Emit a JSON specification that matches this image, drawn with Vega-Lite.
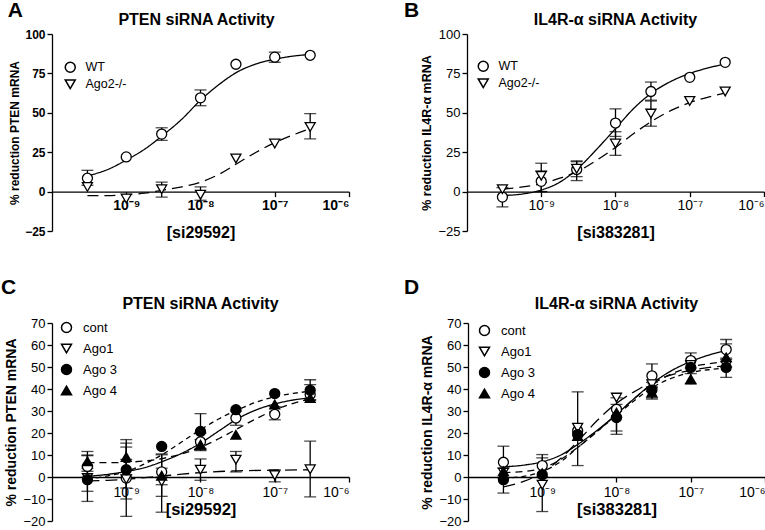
{
"$schema":"https://vega.github.io/schema/vega-lite/v6.json",
"padding":{"left":0,"top":0,"right":0,"bottom":0},
"config":{"font":"Liberation Sans","view":{"stroke":null},
 "axis":{"grid":false,"domainColor":"black","tickColor":"black","labelColor":"black","titleColor":"black","labelFont":"Liberation Sans","titleFont":"Liberation Sans","tickSize":5,"domainWidth":1.3,"tickWidth":1.3},
 "title":{"font":"Liberation Sans","color":"black"},
 "legend":{"labelFont":"Liberation Sans","labelColor":"black"}},
"datasets":{
"aPts":[
{"s":"WT","c":3e-10,"v":8.5,"lo":4,"hi":13.5},{"s":"WT","c":1e-9,"v":22,"lo":null,"hi":null},{"s":"WT","c":3e-9,"v":36.5,"lo":32.5,"hi":40.5},{"s":"WT","c":1e-8,"v":59.5,"lo":54.5,"hi":64.5},{"s":"WT","c":3e-8,"v":80.8,"lo":null,"hi":null},{"s":"WT","c":1e-7,"v":85.3,"lo":82,"hi":88.5},{"s":"WT","c":3e-7,"v":86.5,"lo":null,"hi":null},
{"s":"Ago2-/-","c":3e-10,"v":3,"lo":null,"hi":null},{"s":"Ago2-/-","c":1e-9,"v":-4.4,"lo":null,"hi":null},{"s":"Ago2-/-","c":3e-9,"v":1.5,"lo":-3.5,"hi":6},{"s":"Ago2-/-","c":1e-8,"v":-2,"lo":-5.5,"hi":3},{"s":"Ago2-/-","c":3e-8,"v":21,"lo":null,"hi":null},{"s":"Ago2-/-","c":1e-7,"v":30.5,"lo":null,"hi":null},{"s":"Ago2-/-","c":3e-7,"v":41,"lo":33.5,"hi":49.5}],
"aCurve":[
{"s":"WT","c":3e-10,"v":10},{"s":"WT","c":5.62e-10,"v":14},{"s":"WT","c":1e-9,"v":20},{"s":"WT","c":1.78e-9,"v":27},{"s":"WT","c":3.16e-9,"v":36},{"s":"WT","c":5.62e-9,"v":46},{"s":"WT","c":1e-8,"v":58},{"s":"WT","c":1.78e-8,"v":68},{"s":"WT","c":3.16e-8,"v":76},{"s":"WT","c":5.62e-8,"v":81},{"s":"WT","c":1e-7,"v":84},{"s":"WT","c":1.78e-7,"v":86},{"s":"WT","c":3e-7,"v":87},
{"s":"Ago2-/-","c":3e-10,"v":-2.5},{"s":"Ago2-/-","c":5.62e-10,"v":-2.5},{"s":"Ago2-/-","c":1e-9,"v":-2},{"s":"Ago2-/-","c":1.78e-9,"v":-1},{"s":"Ago2-/-","c":3.16e-9,"v":1},{"s":"Ago2-/-","c":5.62e-9,"v":3},{"s":"Ago2-/-","c":1e-8,"v":6},{"s":"Ago2-/-","c":1.78e-8,"v":11},{"s":"Ago2-/-","c":3.16e-8,"v":18},{"s":"Ago2-/-","c":5.62e-8,"v":25},{"s":"Ago2-/-","c":1e-7,"v":31},{"s":"Ago2-/-","c":1.78e-7,"v":36},{"s":"Ago2-/-","c":3e-7,"v":40}],
"bPts":[
{"s":"WT","c":3e-10,"v":-3.5,"lo":-9.7,"hi":2.5},{"s":"WT","c":1e-9,"v":6.5,"lo":0,"hi":13},{"s":"WT","c":3e-9,"v":14,"lo":7,"hi":19.5},{"s":"WT","c":1e-8,"v":43.5,"lo":35,"hi":52.5},{"s":"WT","c":3e-8,"v":63.5,"lo":58,"hi":69.5},{"s":"WT","c":1e-7,"v":72.5,"lo":null,"hi":null},{"s":"WT","c":3e-7,"v":82,"lo":null,"hi":null},
{"s":"Ago2-/-","c":3e-10,"v":1.5,"lo":null,"hi":null},{"s":"Ago2-/-","c":1e-9,"v":10,"lo":0,"hi":18},{"s":"Ago2-/-","c":3e-9,"v":14.5,"lo":9.5,"hi":19},{"s":"Ago2-/-","c":1e-8,"v":30.5,"lo":23,"hi":38},{"s":"Ago2-/-","c":3e-8,"v":49.5,"lo":41.5,"hi":57.5},{"s":"Ago2-/-","c":1e-7,"v":57.5,"lo":null,"hi":null},{"s":"Ago2-/-","c":3e-7,"v":63.5,"lo":null,"hi":null}],
"bCurve":[
{"s":"WT","c":3e-10,"v":-2.5},{"s":"WT","c":5.62e-10,"v":-1.5},{"s":"WT","c":1e-9,"v":1},{"s":"WT","c":1.78e-9,"v":6},{"s":"WT","c":3.16e-9,"v":15},{"s":"WT","c":5.62e-9,"v":27},{"s":"WT","c":1e-8,"v":40},{"s":"WT","c":1.78e-8,"v":53},{"s":"WT","c":3.16e-8,"v":63},{"s":"WT","c":5.62e-8,"v":70},{"s":"WT","c":1e-7,"v":75},{"s":"WT","c":1.78e-7,"v":78.5},{"s":"WT","c":3e-7,"v":81},
{"s":"Ago2-/-","c":3e-10,"v":1.5},{"s":"Ago2-/-","c":5.62e-10,"v":3},{"s":"Ago2-/-","c":1e-9,"v":5},{"s":"Ago2-/-","c":1.78e-9,"v":8.5},{"s":"Ago2-/-","c":3.16e-9,"v":13},{"s":"Ago2-/-","c":5.62e-9,"v":20},{"s":"Ago2-/-","c":1e-8,"v":28},{"s":"Ago2-/-","c":1.78e-8,"v":37},{"s":"Ago2-/-","c":3.16e-8,"v":45},{"s":"Ago2-/-","c":5.62e-8,"v":51.5},{"s":"Ago2-/-","c":1e-7,"v":56.5},{"s":"Ago2-/-","c":1.78e-7,"v":60},{"s":"Ago2-/-","c":3e-7,"v":62.5}],
"cPts":[
{"s":"cont","c":3e-10,"v":4.8,"lo":-0.1,"hi":9.7},{"s":"cont","c":1e-9,"v":-0.5,"lo":-17.9,"hi":15.4},{"s":"cont","c":3e-9,"v":2.3,"lo":-8.8,"hi":10.1},{"s":"cont","c":1e-8,"v":16,"lo":12,"hi":20},{"s":"cont","c":3e-8,"v":26.8,"lo":23.5,"hi":30},{"s":"cont","c":1e-7,"v":28.5,"lo":26,"hi":32},{"s":"cont","c":3e-7,"v":37.5,"lo":35,"hi":42},
{"s":"Ago1","c":3e-10,"v":-0.5,"lo":-11.1,"hi":10},{"s":"Ago1","c":1e-9,"v":-1,"lo":-10,"hi":8},{"s":"Ago1","c":3e-9,"v":-2,"lo":-16,"hi":10.5},{"s":"Ago1","c":1e-8,"v":3.3,"lo":-1.5,"hi":8.2},{"s":"Ago1","c":3e-8,"v":7.9,"lo":2.3,"hi":11.6},{"s":"Ago1","c":1e-7,"v":0.8,"lo":-2.2,"hi":3.3},{"s":"Ago1","c":3e-7,"v":3.5,"lo":-9,"hi":16.3},
{"s":"Ago 3","c":3e-10,"v":-1.2,"lo":-6.5,"hi":4},{"s":"Ago 3","c":1e-9,"v":3.3,"lo":-5,"hi":13.6},{"s":"Ago 3","c":3e-9,"v":13.9,"lo":null,"hi":null},{"s":"Ago 3","c":1e-8,"v":20.7,"lo":13,"hi":28.8},{"s":"Ago 3","c":3e-8,"v":30.6,"lo":null,"hi":null},{"s":"Ago 3","c":1e-7,"v":37.9,"lo":null,"hi":null},{"s":"Ago 3","c":3e-7,"v":39.4,"lo":35,"hi":44.2},
{"s":"Ago 4","c":3e-10,"v":7.1,"lo":2.6,"hi":11.6},{"s":"Ago 4","c":1e-9,"v":9.1,"lo":1,"hi":17},{"s":"Ago 4","c":3e-9,"v":0.6,"lo":-3.5,"hi":4},{"s":"Ago 4","c":1e-8,"v":14.7,"lo":12.4,"hi":17},{"s":"Ago 4","c":3e-8,"v":19.2,"lo":null,"hi":null},{"s":"Ago 4","c":1e-7,"v":33,"lo":null,"hi":null},{"s":"Ago 4","c":3e-7,"v":35.9,"lo":null,"hi":null}],
"cCurve":[
{"s":"cont","c":3e-10,"v":0.3},{"s":"cont","c":5.62e-10,"v":1.2},{"s":"cont","c":1e-9,"v":2.5},{"s":"cont","c":1.78e-9,"v":4.3},{"s":"cont","c":3.16e-9,"v":7.2},{"s":"cont","c":5.62e-9,"v":10.8},{"s":"cont","c":1e-8,"v":15.4},{"s":"cont","c":1.78e-8,"v":21},{"s":"cont","c":3.16e-8,"v":26.5},{"s":"cont","c":5.62e-8,"v":30.5},{"s":"cont","c":1e-7,"v":33.2},{"s":"cont","c":1.78e-7,"v":35},{"s":"cont","c":3e-7,"v":36},
{"s":"Ago1","c":3e-10,"v":-1.8},{"s":"Ago1","c":5.62e-10,"v":-1.5},{"s":"Ago1","c":1e-9,"v":-1},{"s":"Ago1","c":1.78e-9,"v":-0.3},{"s":"Ago1","c":3.16e-9,"v":0.5},{"s":"Ago1","c":5.62e-9,"v":1.3},{"s":"Ago1","c":1e-8,"v":2},{"s":"Ago1","c":1.78e-8,"v":2.5},{"s":"Ago1","c":3.16e-8,"v":2.8},{"s":"Ago1","c":1e-7,"v":3.1},{"s":"Ago1","c":3e-7,"v":3.3},
{"s":"Ago 3","c":3e-10,"v":-1},{"s":"Ago 3","c":5.62e-10,"v":0.5},{"s":"Ago 3","c":1e-9,"v":2.5},{"s":"Ago 3","c":1.78e-9,"v":6},{"s":"Ago 3","c":3.16e-9,"v":10.5},{"s":"Ago 3","c":5.62e-9,"v":16},{"s":"Ago 3","c":1e-8,"v":21.5},{"s":"Ago 3","c":1.78e-8,"v":26.5},{"s":"Ago 3","c":3.16e-8,"v":30.5},{"s":"Ago 3","c":5.62e-8,"v":34},{"s":"Ago 3","c":1e-7,"v":36.5},{"s":"Ago 3","c":1.78e-7,"v":38},{"s":"Ago 3","c":3e-7,"v":39},
{"s":"Ago 4","c":3e-10,"v":6.5},{"s":"Ago 4","c":5.62e-10,"v":6.5},{"s":"Ago 4","c":1e-9,"v":6.7},{"s":"Ago 4","c":1.78e-9,"v":7.3},{"s":"Ago 4","c":3.16e-9,"v":8.5},{"s":"Ago 4","c":5.62e-9,"v":10.5},{"s":"Ago 4","c":1e-8,"v":13.5},{"s":"Ago 4","c":1.78e-8,"v":17.5},{"s":"Ago 4","c":3.16e-8,"v":22},{"s":"Ago 4","c":5.62e-8,"v":26.5},{"s":"Ago 4","c":1e-7,"v":30.5},{"s":"Ago 4","c":1.78e-7,"v":33.5},{"s":"Ago 4","c":3e-7,"v":35.5}],
"dPts":[
{"s":"cont","c":3e-10,"v":6.7,"lo":-0.5,"hi":14},{"s":"cont","c":1e-9,"v":5.2,"lo":0,"hi":10.2},{"s":"cont","c":3e-9,"v":21,"lo":null,"hi":null},{"s":"cont","c":1e-8,"v":30.8,"lo":20.9,"hi":36},{"s":"cont","c":3e-8,"v":46,"lo":40.5,"hi":51.4},{"s":"cont","c":1e-7,"v":52.9,"lo":49.5,"hi":56.4},{"s":"cont","c":3e-7,"v":57.9,"lo":53.5,"hi":62.5},
{"s":"Ago1","c":3e-10,"v":2,"lo":null,"hi":null},{"s":"Ago1","c":1e-9,"v":-3.5,"lo":-15.7,"hi":8.7},{"s":"Ago1","c":3e-9,"v":22.4,"lo":5.2,"hi":38.7},{"s":"Ago1","c":1e-8,"v":36.1,"lo":null,"hi":null},{"s":"Ago1","c":3e-8,"v":42.2,"lo":null,"hi":null},{"s":"Ago1","c":1e-7,"v":50.9,"lo":null,"hi":null},{"s":"Ago1","c":3e-7,"v":50.6,"lo":null,"hi":null},
{"s":"Ago 3","c":3e-10,"v":-1.2,"lo":-7.3,"hi":4},{"s":"Ago 3","c":1e-9,"v":1,"lo":null,"hi":null},{"s":"Ago 3","c":3e-9,"v":19.3,"lo":null,"hi":null},{"s":"Ago 3","c":1e-8,"v":27,"lo":19.4,"hi":33},{"s":"Ago 3","c":3e-8,"v":39.5,"lo":35.4,"hi":43},{"s":"Ago 3","c":1e-7,"v":49.8,"lo":null,"hi":null},{"s":"Ago 3","c":3e-7,"v":49.8,"lo":45.3,"hi":54},
{"s":"Ago 4","c":3e-10,"v":2.6,"lo":null,"hi":null},{"s":"Ago 4","c":1e-9,"v":1.8,"lo":null,"hi":null},{"s":"Ago 4","c":3e-9,"v":18.6,"lo":null,"hi":null},{"s":"Ago 4","c":1e-8,"v":29.3,"lo":null,"hi":null},{"s":"Ago 4","c":3e-8,"v":38.4,"lo":36,"hi":41},{"s":"Ago 4","c":1e-7,"v":44.5,"lo":42.2,"hi":47},{"s":"Ago 4","c":3e-7,"v":54.4,"lo":50,"hi":60.5}],
"dCurve":[
{"s":"cont","c":3e-10,"v":4.6},{"s":"cont","c":5.62e-10,"v":5.4},{"s":"cont","c":1e-9,"v":6.9},{"s":"cont","c":1.78e-9,"v":10},{"s":"cont","c":3.16e-9,"v":15.3},{"s":"cont","c":5.62e-9,"v":21.5},{"s":"cont","c":1e-8,"v":28.5},{"s":"cont","c":1.78e-8,"v":36},{"s":"cont","c":3.16e-8,"v":43},{"s":"cont","c":5.62e-8,"v":48.5},{"s":"cont","c":1e-7,"v":52.5},{"s":"cont","c":1.78e-7,"v":55.5},{"s":"cont","c":3e-7,"v":57.5},
{"s":"Ago1","c":3e-10,"v":-4.5},{"s":"Ago1","c":5.62e-10,"v":-2},{"s":"Ago1","c":1e-9,"v":2},{"s":"Ago1","c":1.78e-9,"v":8.5},{"s":"Ago1","c":3.16e-9,"v":17},{"s":"Ago1","c":5.62e-9,"v":26},{"s":"Ago1","c":1e-8,"v":33.5},{"s":"Ago1","c":1.78e-8,"v":39},{"s":"Ago1","c":3.16e-8,"v":43.5},{"s":"Ago1","c":5.62e-8,"v":46.5},{"s":"Ago1","c":1e-7,"v":48.5},{"s":"Ago1","c":1.78e-7,"v":49.8},{"s":"Ago1","c":3e-7,"v":50.5},
{"s":"Ago 3","c":3e-10,"v":-0.5},{"s":"Ago 3","c":5.62e-10,"v":0.3},{"s":"Ago 3","c":1e-9,"v":2.5},{"s":"Ago 3","c":1.78e-9,"v":7},{"s":"Ago 3","c":3.16e-9,"v":14},{"s":"Ago 3","c":5.62e-9,"v":21},{"s":"Ago 3","c":1e-8,"v":28},{"s":"Ago 3","c":1.78e-8,"v":35},{"s":"Ago 3","c":3.16e-8,"v":41},{"s":"Ago 3","c":5.62e-8,"v":45},{"s":"Ago 3","c":1e-7,"v":47.5},{"s":"Ago 3","c":1.78e-7,"v":48.8},{"s":"Ago 3","c":3e-7,"v":49.5},
{"s":"Ago 4","c":3e-10,"v":2},{"s":"Ago 4","c":5.62e-10,"v":2.5},{"s":"Ago 4","c":1e-9,"v":4},{"s":"Ago 4","c":1.78e-9,"v":8},{"s":"Ago 4","c":3.16e-9,"v":14},{"s":"Ago 4","c":5.62e-9,"v":21},{"s":"Ago 4","c":1e-8,"v":28.5},{"s":"Ago 4","c":1.78e-8,"v":36},{"s":"Ago 4","c":3.16e-8,"v":42.5},{"s":"Ago 4","c":5.62e-8,"v":47},{"s":"Ago 4","c":1e-7,"v":50},{"s":"Ago 4","c":1.78e-7,"v":51.5},{"s":"Ago 4","c":3e-7,"v":52.5}]
},
"spacing":36,
"resolve":{"scale":{"shape":"independent","fill":"independent","strokeDash":"independent"},"legend":{"shape":"independent","fill":"independent","strokeDash":"independent"}},
"vconcat":[
{"resolve":{"scale":{"shape":"independent","fill":"independent","strokeDash":"independent"},"legend":{"shape":"independent","fill":"independent","strokeDash":"independent"}},
"hconcat":[
{"title":{"text":"A","anchor":"start","frame":"bounds","fontSize":21,"fontWeight":"bold","offset":-9,"dx":-1},
 "resolve":{"legend":{"shape":"independent","fill":"independent"}},
 "vconcat":[{"width":297,"height":197,
  "title":{"text":"PTEN siRNA Activity","fontSize":16,"fontWeight":"bold","offset":0,"dx":-4},
  "encoding":{
   "x":{"field":"c","type":"quantitative","scale":{"type":"log","domain":[1e-10,1e-6],"nice":false},"axis":{"values":[1e-9,1e-8,1e-7,1e-6],"labelExpr":"datum.value < 5e-9 ? '10⁻⁹' : datum.value < 5e-8 ? '10⁻⁸' : datum.value < 5e-7 ? '10⁻⁷' : '10⁻⁶'","offset":-39.4,"title":"[si29592]","titleFontSize":16,"titleFontWeight":"bold","titleY":41,"titleBaseline":"middle","labelFontSize":14,"labelFontWeight":"bold","labelPadding":2}},
   "y":{"field":"v","type":"quantitative","scale":{"domain":[-25,100],"nice":false},"axis":{"values":[-25,0,25,50,75,100],"title":"% reduction PTEN mRNA","titleFontSize":12,"titleFontWeight":"bold","labelFontSize":12,"labelFontWeight":"bold","titlePadding":3}}},
  "layer":[
   {"data":{"name":"aCurve"},"mark":{"type":"line","color":"black","strokeWidth":1.3,"interpolate":"monotone"},"encoding":{"strokeDash":{"field":"s","type":"nominal","scale":{"domain":["WT","Ago2-/-"],"range":[[1,0],[11,6]]},"legend":null}}},
   {"data":{"name":"aPts"},"mark":{"type":"rule","color":"black","strokeWidth":1.3},"encoding":{"y":{"field":"lo","type":"quantitative","scale":{"domain":[-25,100],"nice":false},"axis":{"values":[-25,0,25,50,75,100],"title":"% reduction PTEN mRNA","titleFontSize":12,"titleFontWeight":"bold","labelFontSize":12,"labelFontWeight":"bold","titlePadding":3}},"y2":{"field":"hi"}}},
   {"data":{"name":"aPts"},"mark":{"type":"tick","orient":"horizontal","size":12,"thickness":1.3,"color":"black"},"encoding":{"y":{"field":"lo","type":"quantitative","scale":{"domain":[-25,100],"nice":false},"axis":{"values":[-25,0,25,50,75,100],"title":"% reduction PTEN mRNA","titleFontSize":12,"titleFontWeight":"bold","labelFontSize":12,"labelFontWeight":"bold","titlePadding":3}}}},
   {"data":{"name":"aPts"},"mark":{"type":"tick","orient":"horizontal","size":12,"thickness":1.3,"color":"black"},"encoding":{"y":{"field":"hi","type":"quantitative","scale":{"domain":[-25,100],"nice":false},"axis":{"values":[-25,0,25,50,75,100],"title":"% reduction PTEN mRNA","titleFontSize":12,"titleFontWeight":"bold","labelFontSize":12,"labelFontWeight":"bold","titlePadding":3}}}},
   {"data":{"name":"aPts"},"mark":{"type":"point","filled":true,"stroke":"black","strokeWidth":1.3,"size":100,"opacity":1},"encoding":{
     "shape":{"field":"s","type":"nominal","scale":{"domain":["WT","Ago2-/-"],"range":["circle","triangle-down"]},"legend":{"orient":"none","legendX":12,"legendY":27,"title":null,"labelFontSize":12.5,"symbolSize":100,"rowPadding":0,"labelOffset":9,"padding":0,"encode":{"symbols":{"update":{"stroke":{"value":"black"},"strokeWidth":{"value":1.3}}}}}},
     "fill":{"field":"s","type":"nominal","scale":{"domain":["WT","Ago2-/-"],"range":["white","white"]},"legend":{"orient":"none","legendX":12,"legendY":27,"title":null,"labelFontSize":12.5,"symbolSize":100,"rowPadding":0,"labelOffset":9,"padding":0,"encode":{"symbols":{"update":{"stroke":{"value":"black"},"strokeWidth":{"value":1.3}}}}}}}}
  ]}]},
{"title":{"text":"B","anchor":"start","frame":"bounds","fontSize":21,"fontWeight":"bold","offset":-9,"dx":-17},
 "resolve":{"legend":{"shape":"independent","fill":"independent"}},
 "vconcat":[{"width":297,"height":197,
  "title":{"text":"IL4R-α siRNA Activity","fontSize":16,"fontWeight":"bold","offset":0},
  "encoding":{
   "x":{"field":"c","type":"quantitative","scale":{"type":"log","domain":[1e-10,1e-6],"nice":false},"axis":{"values":[1e-9,1e-8,1e-7,1e-6],"labelExpr":"datum.value < 5e-9 ? '10⁻⁹' : datum.value < 5e-8 ? '10⁻⁸' : datum.value < 5e-7 ? '10⁻⁷' : '10⁻⁶'","offset":-39.4,"title":"[si383281]","titleFontSize":16,"titleFontWeight":"bold","titleY":41,"titleBaseline":"middle","labelFontSize":14,"labelPadding":2}},
   "y":{"field":"v","type":"quantitative","scale":{"domain":[-25,100],"nice":false},"axis":{"values":[-25,0,25,50,75,100],"title":"% reduction IL4R-α mRNA","titleFontSize":12.5,"titleFontWeight":"bold","labelFontSize":13,"titlePadding":4}}},
  "layer":[
   {"data":{"name":"bCurve"},"mark":{"type":"line","color":"black","strokeWidth":1.3,"interpolate":"monotone"},"encoding":{"strokeDash":{"field":"s","type":"nominal","scale":{"domain":["WT","Ago2-/-"],"range":[[1,0],[11,6]]},"legend":null}}},
   {"data":{"name":"bPts"},"mark":{"type":"rule","color":"black","strokeWidth":1.3},"encoding":{"y":{"field":"lo","type":"quantitative","scale":{"domain":[-25,100],"nice":false},"axis":{"values":[-25,0,25,50,75,100],"title":"% reduction IL4R-α mRNA","titleFontSize":12.5,"titleFontWeight":"bold","labelFontSize":13,"titlePadding":4}},"y2":{"field":"hi"}}},
   {"data":{"name":"bPts"},"mark":{"type":"tick","orient":"horizontal","size":12,"thickness":1.3,"color":"black"},"encoding":{"y":{"field":"lo","type":"quantitative","scale":{"domain":[-25,100],"nice":false},"axis":{"values":[-25,0,25,50,75,100],"title":"% reduction IL4R-α mRNA","titleFontSize":12.5,"titleFontWeight":"bold","labelFontSize":13,"titlePadding":4}}}},
   {"data":{"name":"bPts"},"mark":{"type":"tick","orient":"horizontal","size":12,"thickness":1.3,"color":"black"},"encoding":{"y":{"field":"hi","type":"quantitative","scale":{"domain":[-25,100],"nice":false},"axis":{"values":[-25,0,25,50,75,100],"title":"% reduction IL4R-α mRNA","titleFontSize":12.5,"titleFontWeight":"bold","labelFontSize":13,"titlePadding":4}}}},
   {"data":{"name":"bPts"},"mark":{"type":"point","filled":true,"stroke":"black","strokeWidth":1.3,"size":100,"opacity":1},"encoding":{
     "shape":{"field":"s","type":"nominal","scale":{"domain":["WT","Ago2-/-"],"range":["circle","triangle-down"]},"legend":{"orient":"none","legendX":10,"legendY":26,"title":null,"labelFontSize":12.5,"symbolSize":100,"rowPadding":0,"labelOffset":9,"padding":0,"encode":{"symbols":{"update":{"stroke":{"value":"black"},"strokeWidth":{"value":1.3}}}}}},
     "fill":{"field":"s","type":"nominal","scale":{"domain":["WT","Ago2-/-"],"range":["white","white"]},"legend":{"orient":"none","legendX":10,"legendY":26,"title":null,"labelFontSize":12.5,"symbolSize":100,"rowPadding":0,"labelOffset":9,"padding":0,"encode":{"symbols":{"update":{"stroke":{"value":"black"},"strokeWidth":{"value":1.3}}}}}}}}
  ]}]}
],"spacing":53},
{"resolve":{"scale":{"shape":"independent","fill":"independent","strokeDash":"independent"},"legend":{"shape":"independent","fill":"independent","strokeDash":"independent"}},
"hconcat":[
{"title":{"text":"C","anchor":"start","frame":"bounds","fontSize":21,"fontWeight":"bold","offset":-2,"dx":-4},
 "resolve":{"legend":{"shape":"independent","fill":"independent"}},
 "vconcat":[{"width":297,"height":198,
  "title":{"text":"PTEN siRNA Activity","fontSize":16,"fontWeight":"bold","offset":5},
  "encoding":{
   "x":{"field":"c","type":"quantitative","scale":{"type":"log","domain":[1e-10,1e-6],"nice":false},"axis":{"values":[1e-9,1e-8,1e-7,1e-6],"labelExpr":"datum.value < 5e-9 ? '10⁻⁹' : datum.value < 5e-8 ? '10⁻⁸' : datum.value < 5e-7 ? '10⁻⁷' : '10⁻⁶'","offset":-44,"title":"[si29592]","titleFontSize":16.5,"titleFontWeight":"bold","titleY":32,"titleBaseline":"middle","labelFontSize":14,"labelPadding":3}},
   "y":{"field":"v","type":"quantitative","scale":{"domain":[-20,70],"nice":false},"axis":{"values":[-20,-10,0,10,20,30,40,50,60,70],"title":"% reduction PTEN mRNA","titleFontSize":14,"titleFontWeight":"bold","labelFontSize":13,"titlePadding":4}}},
  "layer":[
   {"data":{"name":"cCurve"},"mark":{"type":"line","color":"black","strokeWidth":1.3,"interpolate":"monotone"},"encoding":{"strokeDash":{"field":"s","type":"nominal","scale":{"domain":["cont","Ago1","Ago 3","Ago 4"],"range":[[1,0],[12,6],[5,4],[7,5]]},"legend":null}}},
   {"data":{"name":"cPts"},"mark":{"type":"rule","color":"black","strokeWidth":1.3},"encoding":{"y":{"field":"lo","type":"quantitative","scale":{"domain":[-20,70],"nice":false},"axis":{"values":[-20,-10,0,10,20,30,40,50,60,70],"title":"% reduction PTEN mRNA","titleFontSize":14,"titleFontWeight":"bold","labelFontSize":13,"titlePadding":4}},"y2":{"field":"hi"}}},
   {"data":{"name":"cPts"},"mark":{"type":"tick","orient":"horizontal","size":12,"thickness":1.3,"color":"black"},"encoding":{"y":{"field":"lo","type":"quantitative","scale":{"domain":[-20,70],"nice":false},"axis":{"values":[-20,-10,0,10,20,30,40,50,60,70],"title":"% reduction PTEN mRNA","titleFontSize":14,"titleFontWeight":"bold","labelFontSize":13,"titlePadding":4}}}},
   {"data":{"name":"cPts"},"mark":{"type":"tick","orient":"horizontal","size":12,"thickness":1.3,"color":"black"},"encoding":{"y":{"field":"hi","type":"quantitative","scale":{"domain":[-20,70],"nice":false},"axis":{"values":[-20,-10,0,10,20,30,40,50,60,70],"title":"% reduction PTEN mRNA","titleFontSize":14,"titleFontWeight":"bold","labelFontSize":13,"titlePadding":4}}}},
   {"data":{"name":"cPts"},"mark":{"type":"point","filled":true,"stroke":"black","strokeWidth":1.3,"size":100,"opacity":1},"encoding":{
     "shape":{"field":"s","type":"nominal","scale":{"domain":["cont","Ago1","Ago 3","Ago 4"],"range":["circle","triangle-down","circle","triangle-up"]},"legend":{"orient":"none","legendX":8,"legendY":-2,"title":null,"labelFontSize":13,"symbolSize":100,"rowPadding":5,"labelOffset":10,"padding":0,"encode":{"symbols":{"update":{"stroke":{"value":"black"},"strokeWidth":{"value":1.3}}}}}},
     "fill":{"field":"s","type":"nominal","scale":{"domain":["cont","Ago1","Ago 3","Ago 4"],"range":["white","white","black","black"]},"legend":{"orient":"none","legendX":8,"legendY":-2,"title":null,"labelFontSize":13,"symbolSize":100,"rowPadding":5,"labelOffset":10,"padding":0,"encode":{"symbols":{"update":{"stroke":{"value":"black"},"strokeWidth":{"value":1.3}}}}}}}}
  ]}]},
{"title":{"text":"D","anchor":"start","frame":"bounds","fontSize":21,"fontWeight":"bold","offset":-2,"dx":-17},
 "resolve":{"legend":{"shape":"independent","fill":"independent"}},
 "vconcat":[{"width":297,"height":198,
  "title":{"text":"IL4R-α siRNA Activity","fontSize":16,"fontWeight":"bold","offset":5},
  "encoding":{
   "x":{"field":"c","type":"quantitative","scale":{"type":"log","domain":[1e-10,1e-6],"nice":false},"axis":{"values":[1e-9,1e-8,1e-7,1e-6],"labelExpr":"datum.value < 5e-9 ? '10⁻⁹' : datum.value < 5e-8 ? '10⁻⁸' : datum.value < 5e-7 ? '10⁻⁷' : '10⁻⁶'","offset":-44,"title":"[si383281]","titleFontSize":16.5,"titleFontWeight":"bold","titleY":32,"titleBaseline":"middle","labelFontSize":14,"labelPadding":3}},
   "y":{"field":"v","type":"quantitative","scale":{"domain":[-20,70],"nice":false},"axis":{"values":[-20,-10,0,10,20,30,40,50,60,70],"title":"% reduction IL4R-α mRNA","titleFontSize":14,"titleFontWeight":"bold","labelFontSize":13,"titlePadding":4}}},
  "layer":[
   {"data":{"name":"dCurve"},"mark":{"type":"line","color":"black","strokeWidth":1.3,"interpolate":"monotone"},"encoding":{"strokeDash":{"field":"s","type":"nominal","scale":{"domain":["cont","Ago1","Ago 3","Ago 4"],"range":[[1,0],[12,6],[5,4],[7,5]]},"legend":null}}},
   {"data":{"name":"dPts"},"mark":{"type":"rule","color":"black","strokeWidth":1.3},"encoding":{"y":{"field":"lo","type":"quantitative","scale":{"domain":[-20,70],"nice":false},"axis":{"values":[-20,-10,0,10,20,30,40,50,60,70],"title":"% reduction IL4R-α mRNA","titleFontSize":14,"titleFontWeight":"bold","labelFontSize":13,"titlePadding":4}},"y2":{"field":"hi"}}},
   {"data":{"name":"dPts"},"mark":{"type":"tick","orient":"horizontal","size":12,"thickness":1.3,"color":"black"},"encoding":{"y":{"field":"lo","type":"quantitative","scale":{"domain":[-20,70],"nice":false},"axis":{"values":[-20,-10,0,10,20,30,40,50,60,70],"title":"% reduction IL4R-α mRNA","titleFontSize":14,"titleFontWeight":"bold","labelFontSize":13,"titlePadding":4}}}},
   {"data":{"name":"dPts"},"mark":{"type":"tick","orient":"horizontal","size":12,"thickness":1.3,"color":"black"},"encoding":{"y":{"field":"hi","type":"quantitative","scale":{"domain":[-20,70],"nice":false},"axis":{"values":[-20,-10,0,10,20,30,40,50,60,70],"title":"% reduction IL4R-α mRNA","titleFontSize":14,"titleFontWeight":"bold","labelFontSize":13,"titlePadding":4}}}},
   {"data":{"name":"dPts"},"mark":{"type":"point","filled":true,"stroke":"black","strokeWidth":1.3,"size":100,"opacity":1},"encoding":{
     "shape":{"field":"s","type":"nominal","scale":{"domain":["cont","Ago1","Ago 3","Ago 4"],"range":["circle","triangle-down","circle","triangle-up"]},"legend":{"orient":"none","legendX":10,"legendY":1,"title":null,"labelFontSize":13,"symbolSize":100,"rowPadding":5,"labelOffset":10,"padding":0,"encode":{"symbols":{"update":{"stroke":{"value":"black"},"strokeWidth":{"value":1.3}}}}}},
     "fill":{"field":"s","type":"nominal","scale":{"domain":["cont","Ago1","Ago 3","Ago 4"],"range":["white","white","black","black"]},"legend":{"orient":"none","legendX":10,"legendY":1,"title":null,"labelFontSize":13,"symbolSize":100,"rowPadding":5,"labelOffset":10,"padding":0,"encode":{"symbols":{"update":{"stroke":{"value":"black"},"strokeWidth":{"value":1.3}}}}}}}}
  ]}]}
],"spacing":53}
]
}
